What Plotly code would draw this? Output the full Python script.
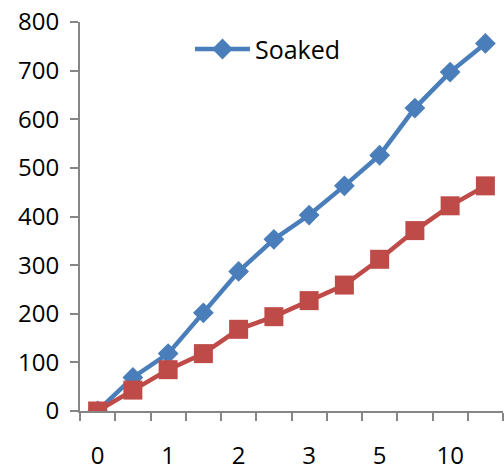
import plotly.graph_objects as go

categories = ["0", "0.5", "1", "1.5", "2", "2.5", "3", "4", "5", "7.5", "10", "15"]
tick_labels = ["0", "", "1", "", "2", "", "3", "", "5", "", "10", ""]
soaked = [0, 69, 118, 202, 287, 353, 403, 463, 526, 623, 697, 756]
other = [0, 43, 85, 118, 168, 194, 227, 259, 312, 371, 422, 463]

FONT = "Open Sans"
AXIS = "#868686"

fig = go.Figure()
fig.add_trace(go.Scatter(
    x=categories, y=soaked, name="Soaked", mode="lines+markers",
    line=dict(color="#4A7EBB", width=4.5),
    marker=dict(symbol="diamond", size=16, color="#4A7EBB"),
))
fig.add_trace(go.Scatter(
    x=categories, y=other, name="Unsoaked", mode="lines+markers", showlegend=False,
    line=dict(color="#BE4B48", width=4.5),
    marker=dict(symbol="square", size=19, color="#BE4B48"),
))

fig.update_layout(
    width=504, height=471,
    margin=dict(l=80, r=1, t=22, b=60, autoexpand=False),
    paper_bgcolor="white", plot_bgcolor="white",
    font=dict(family=FONT, size=24, color="black"),
    legend=dict(x=0.26, y=0.93, xanchor="left", yanchor="middle",
                bgcolor="rgba(0,0,0,0)", itemwidth=55, font=dict(size=25)),
    xaxis=dict(type="category", tickmode="array", tickvals=categories, ticktext=tick_labels,
               tickson="boundaries", ticks="outside", ticklen=8, tickcolor=AXIS, tickwidth=2,
               showline=True, linecolor=AXIS, linewidth=2, showgrid=False, zeroline=False,
               range=[-0.5, 11.5], tickangle=0, automargin=False, ticklabelstandoff=22),
    yaxis=dict(range=[0, 800], dtick=100, ticks="outside", ticklen=8, tickcolor=AXIS, tickwidth=2,
               showline=True, linecolor=AXIS, linewidth=2, showgrid=False, zeroline=False,
               automargin=False, ticklabelstandoff=6),
)
fig.write_html("out.html")
